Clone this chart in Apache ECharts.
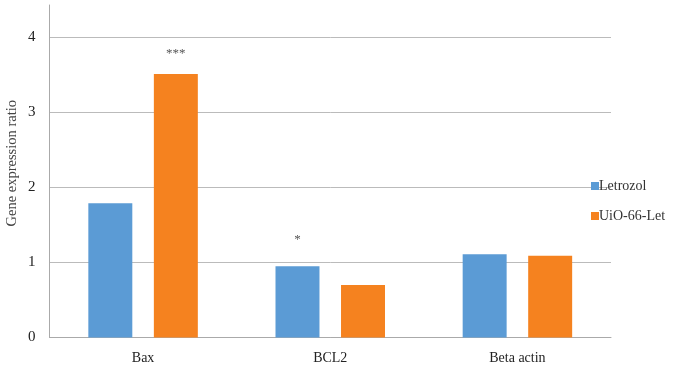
<!DOCTYPE html>
<html>
<head>
<meta charset="utf-8">
<script src="https://cdn.jsdelivr.net/npm/echarts@6/dist/echarts.min.js"></script>
<style>
  html, body { margin: 0; padding: 0; background: #fff; }
  #container { width: 685px; height: 371px; }
</style>
</head>
<body>
<div id="container"></div>
<script>
// data
var genes = ['Bax', 'BCL2', 'Beta actin'];
var seriesNames = ['Letrozol', 'UiO-66-Let'];
var letrozol = [1.79, 0.95, 1.11];
var uioLet = [3.51, 0.70, 1.09];
// significance marks drawn above bars
var letrozolMarks = ['', '*', ''];
var uioLetMarks = ['***', '', ''];

var serif = '"Liberation Serif", "DejaVu Serif", serif';

function withMarks(values, marks, dist) {
    return values.map(function (v, i) {
        return {
            value: v,
            label: {
                show: marks[i] !== '',
                position: 'top',
                distance: dist,
                formatter: marks[i],
                color: '#555',
                fontFamily: serif,
                fontSize: 13
            }
        };
    });
}

var dom = document.getElementById('container');
var myChart = echarts.init(dom, null, { renderer: 'canvas' });

var option = {
    animation: false,
    color: ['#5b9bd5', '#f5821f'],
    grid: { left: 49.5, right: 74, top: 5, bottom: 33.5, outerBoundsMode: 'none', containLabel: false },
    legend: {
        orient: 'vertical',
        left: 586,
        top: 174,
        itemWidth: 8,
        itemHeight: 8,
        itemGap: 16,
        icon: 'rect',
        data: seriesNames,
        textStyle: { fontFamily: serif, fontSize: 14, color: '#333', padding: [0, 0, 0, -5] }
    },
    xAxis: {
        type: 'category',
        data: genes,
        axisTick: { show: false },
        axisLine: { lineStyle: { color: '#aaa', width: 1 } },
        axisLabel: { fontFamily: serif, fontSize: 14, color: '#222', margin: 14 }
    },
    yAxis: {
        type: 'value',
        min: 0,
        max: 4.43,
        interval: 1,
        name: 'Gene expression ratio',
        nameLocation: 'middle',
        nameGap: 30,
        nameMoveOverlap: false,
        nameRotate: 90,
        nameTextStyle: { fontFamily: serif, fontSize: 14.5, color: '#444', padding: [0, 0, 0, 16] },
        axisLine: { show: true, lineStyle: { color: '#aaa', width: 1 } },
        axisTick: { show: false },
        axisLabel: { fontFamily: serif, fontSize: 15, color: '#222', margin: 14, showMaxLabel: false },
        splitLine: {
            lineStyle: {
                color: ['#bbb', '#bbb', '#bbb', '#bbb', '#bbb', 'rgba(0,0,0,0)'],
                width: 1
            }
        }
    },
    series: [
        {
            name: seriesNames[0],
            type: 'bar',
            barGap: '49%',
            barCategoryGap: '41.5%',
            data: withMarks(letrozol, letrozolMarks, 20)
        },
        {
            name: seriesNames[1],
            type: 'bar',
            data: withMarks(uioLet, uioLetMarks, 14)
        }
    ]
};

myChart.setOption(option);
window.addEventListener('resize', myChart.resize);
</script>
</body>
</html>
